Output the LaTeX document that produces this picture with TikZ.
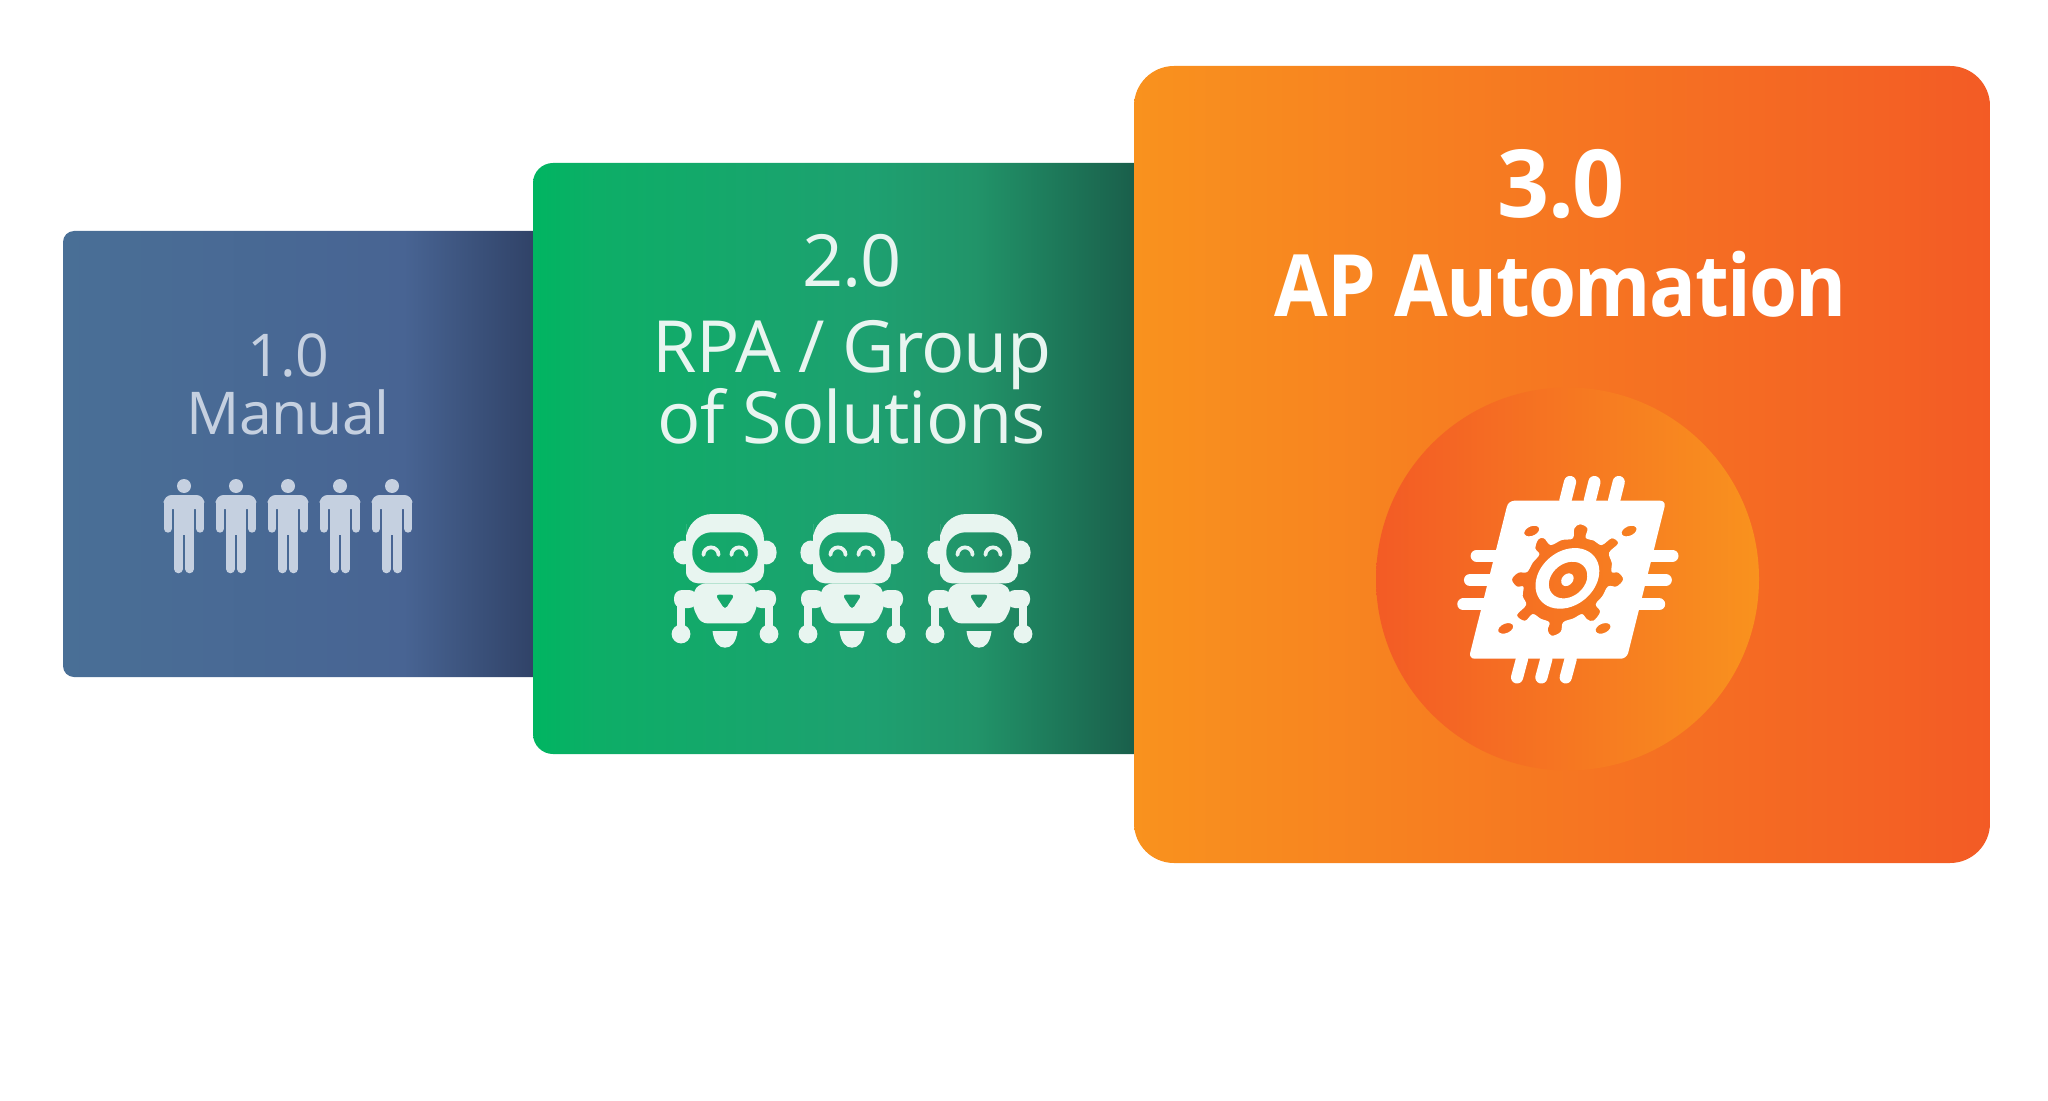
\documentclass[tikz,border=0pt]{standalone}
\usepackage{fontspec}
\setmainfont[LetterSpace=-1.3]{Open Sans}
\newfontfamily\semifont[LetterSpace=-2]{Open Sans}
\newcommand{\semititle}[2]{\scalebox{#1}[1]{#2}}
\usetikzlibrary{positioning,calc}
\definecolor{manualtext}{HTML}{C5D0E0}
\definecolor{rpatext}{HTML}{E8F5F0}
\definecolor{blueleft}{HTML}{496F96}
\definecolor{bluemid}{HTML}{486493}
\definecolor{blueright}{HTML}{304267}
\definecolor{greenleft}{HTML}{00B561}
\definecolor{greennext}{HTML}{0DAE67}
\definecolor{greenmid}{HTML}{1EA070}
\definecolor{greenlate}{HTML}{219469}
\definecolor{greenright}{HTML}{1A5F4B}
\definecolor{orangeleft}{HTML}{F9921E}
\definecolor{orangeright}{HTML}{F35B25}
\pgfdeclarehorizontalshading{manualshade}{100bp}{color(0bp)=(blueleft); color(25bp)=(blueleft); color(60bp)=(bluemid); color(73.4bp)=(blueright); color(100bp)=(blueright)}
\pgfdeclarehorizontalshading{rpashade}{100bp}{color(0bp)=(greenleft); color(25bp)=(greenleft); color(30bp)=(greennext); color(52bp)=(greenmid); color(60bp)=(greenlate); color(72.5bp)=(greenright); color(100bp)=(greenright)}
\pgfdeclarehorizontalshading{autoshade}{100bp}{color(0bp)=(orangeleft); color(25bp)=(orangeleft); color(75bp)=(orangeright); color(100bp)=(orangeright)}
\pgfdeclarehorizontalshading{discshade}{100bp}{color(0bp)=(orangeright); color(25bp)=(orangeright); color(75bp)=(orangeleft); color(100bp)=(orangeleft)}
\newcommand{\chipdot}[2]{plot[domain=0:360,samples=16,smooth cycle] ({#1+21*cos(\x)-0.5*16*sin(\x)},{#2+16*sin(\x)})}
\tikzset{
    manualtitle/.style={
        text=manualtext,
        font=\fontsize{29.5}{29.5}\selectfont,
        anchor=base,
        inner sep=0pt,
    },
    rpatitle/.style={
        text=rpatext,
        font=\fontsize{36}{36}\selectfont,
        anchor=base,
        inner sep=0pt,
    },
    autotitle/.style={
        text=white,
        font=\semifont\bfseries\fontsize{43}{43}\selectfont,
        anchor=base,
        inner sep=0pt,
    },
    chipleg/.style={
        white,
        line width=6.1pt,
        line cap=round,
    },
    person/.pic={
        \fill[manualtext] (0,-9) circle[radius=3.5pt];
        \fill[manualtext,rounded corners=4pt] (-20.3,14) -- (-20.3,0) -- (20.3,0) -- (20.3,14) -- cycle;
        \fill[manualtext] (-10,4) rectangle (10,40);
        \draw[manualtext,line width=4.1pt,line cap=round] (-16.2,8) -- (-16.2,33.6);
        \draw[manualtext,line width=4.1pt,line cap=round] (16.2,8) -- (16.2,33.6);
        \draw[manualtext,line width=4.3pt,line cap=round] (-5.6,30) -- (-5.6,74);
        \draw[manualtext,line width=4.3pt,line cap=round] (5.6,30) -- (5.6,74);
    },
    robot/.pic={
        \fill[rpatext,even odd rule]
            [rounded corners=13pt] (-39,50) -- (-39,14) -- (39,14) [rounded corners=6pt] -- (39,83.3) -- (-39,83.3) [rounded corners=13pt] -- cycle
            [rounded corners=9.5pt] (-32.7,32.3) -- (32.7,32.3) -- (32.7,72.7) -- (-32.7,72.7) -- cycle;
        \fill[rpatext] (38.5,41) .. controls (56,37) and (56,68) .. (38.5,64) -- cycle;
        \fill[rpatext] (-38.5,41) .. controls (-56,37) and (-56,68) .. (-38.5,64) -- cycle;
        \draw[rpatext,line width=1.9pt,line cap=round] (-21.6,55) arc[start angle=180,end angle=0,radius=3.8pt];
        \draw[rpatext,line width=1.9pt,line cap=round] (6.4,55) arc[start angle=180,end angle=0,radius=3.8pt];
        \fill[rpatext,even odd rule]
            [rounded corners=3pt] (-25,83.3) -- (25,83.3) -- (32,92) -- (32,108) -- (24,123.3) -- (-24,123.3) -- (-32,108) -- (-32,92) -- cycle
            [rounded corners=2pt] (-10,94.5) -- (10,94.5) -- (0,110) -- cycle;
        \fill[rpatext,rounded corners=4pt] (-51,90) rectangle (-28,108);
        \fill[rpatext,rounded corners=4pt] (28,90) rectangle (51,108);
        \draw[rpatext,line width=4pt] (-44,100) -- (-44,134);
        \draw[rpatext,line width=4pt] (44,100) -- (44,134);
        \fill[rpatext] (-44,134) circle[radius=4.7pt];
        \fill[rpatext] (44,134) circle[radius=4.7pt];
        \fill[rpatext] (-12.5,131) -- (12.5,131) .. controls (11,143) and (6,147.7) .. (0,147.7) .. controls (-6,147.7) and (-11,143) .. cycle;
    },
}
\begin{document}
\begin{tikzpicture}[x=0.5pt,y=-0.5pt]
    \useasboundingbox (0,0) rectangle (2048,1101);
    % cards
    \shade[shading=manualshade,rounded corners=5.5pt] (63,231) rectangle (550,677);
    \shade[shading=rpashade,rounded corners=10pt] (533,163) rectangle (1165,754);
    \shade[shading=autoshade,rounded corners=20pt] (1134,66) rectangle (1990,863);
    \shade[shading=discshade] (1567.5,579) circle[radius=95.75pt];
    % titles
    \node[manualtitle] (manualnum) at (288,376) {1.0};
    \node[manualtitle] (manualname) at (288,434) {Manual};
    \node[rpatitle] (rpanum) at (852,287) {2.0};
    \node[rpatitle] (rpaname) at (852,372) {RPA / Group};
    \node[rpatitle] (rpasol) at (852,443) {of Solutions};
    \node[autotitle,font=\semifont\bfseries\fontsize{47}{47}\selectfont] (autonum) at (1561,218) {\semititle{0.97}{3.0}};
    \node[autotitle] (autoname) at (1561,317) {\semititle{0.904}{AP Automation}};
    % people
    \pic at (184,495) {person};
    \pic at (236,495) {person};
    \pic at (288,495) {person};
    \pic at (340,495) {person};
    \pic at (392,495) {person};
    % robots
    \pic at (725,500) {robot};
    \pic at (852,500) {robot};
    \pic at (979,500) {robot};
    % chip, in thirds of a pixel
    \begin{scope}[shift={(1360,370)},x=0.1667pt,y=-0.1667pt]
        \draw[chipleg] (616,392) -- (630,336);
        \draw[chipleg] (689,392) -- (703,336);
        \draw[chipleg] (762,392) -- (776,336);
        \draw[chipleg] (486,866) -- (471,922);
        \draw[chipleg] (559,866) -- (544,922);
        \draw[chipleg] (632,866) -- (617,922);
        \draw[chipleg] (350,557) -- (430,557);
        \draw[chipleg] (330,630) -- (410,630);
        \draw[chipleg] (310,703) -- (390,703);
        \draw[chipleg] (937,557) -- (860,557);
        \draw[chipleg] (917,630) -- (840,630);
        \draw[chipleg] (897,703) -- (820,703);
        \fill[white,even odd rule]
            [rounded corners=3pt] (445,392) -- (918,392) -- (800,866) -- (326,866) -- cycle [sharp corners]
            plot[smooth cycle,tension=0.6] coordinates {(638,505) (643,475) (660,463) (682,475) (677,503) (702,512) (725,525) (755,505) (774,520) (747,548) (755,578) (755,606) (775,608) (789,628) (770,649) (744,649) (727,678) (707,703) (720,725) (700,752) (680,747) (666,732) (640,745) (609,757) (602,785) (575,797) (563,780) (568,757) (542,746) (518,732) (495,752) (471,735) (498,705) (488,678) (490,650) (470,649) (456,628) (475,608) (501,606) (518,578) (538,553) (526,535) (535,508) (552,505) (572,525) (605,510)}
            plot[domain=0:360,samples=48,smooth cycle] ({622+93*cos(\x)-0.25*91*sin(\x)},{625+91*sin(\x)})
            plot[domain=0:360,samples=36,smooth cycle] ({624+56*cos(\x)-0.25*55*sin(\x)},{630+55*sin(\x)})
            plot[domain=0:360,samples=24,smooth cycle] ({622+18*cos(\x)-0.25*19*sin(\x)},{629+19*sin(\x)})
            \chipdot{515}{483} \chipdot{807}{483} \chipdot{437}{775} \chipdot{729}{775};
    \end{scope}
\end{tikzpicture}
\end{document}
